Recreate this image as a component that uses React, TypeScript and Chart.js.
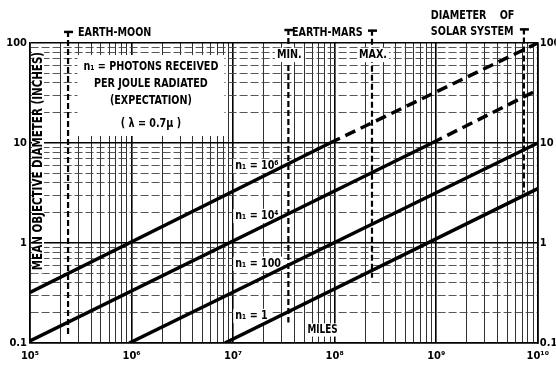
import React, { useEffect, useRef } from 'react';
import { Chart, registerables } from 'chart.js';

Chart.register(...registerables);

// ---- axis ticks ----
const xTickValues = [1e5, 1e6, 1e7, 1e8, 1e9, 1e10];
const xTickLabels = ['10⁵', '10⁶', '10⁷', '10⁸', '10⁹', '10¹⁰'];
const yTickValues = [0.1, 1, 10, 100];
const yTickLabels = ['0.1', '1', '10', '100'];

// ---- curves: mean objective diameter (inches) vs distance (miles) ----
const curveNames = ['n₁ = 10⁶', 'n₁ = 10⁴', 'n₁ = 100', 'n₁ = 1'];
const curve1e6X = [1e5, 9e7, 1e10];
const curve1e6Y = [0.32, 10, 100];
const curve1e4X = [1e5, 9.1e8, 1e10];
const curve1e4Y = [0.105, 10, 34];
const curve100X = [9.5e5, 1e10];
const curve100Y = [0.1, 10];
const curve1X = [8.3e6, 1e10];
const curve1Y = [0.1, 3.5];

// label anchors for the curves (data units)
const curveLabelX = [1.05e7, 1.05e7, 1.05e7, 1.05e7];
const curveLabelY = [5.9, 1.86, 0.62, 0.186];

// ---- reference distances (miles) ----
const limitNames = ['EARTH-MOON', 'MIN.', 'MAX.', 'SOLAR SYSTEM'];
const limitDistances = [2.37e5, 3.5e7, 2.33e8, 7.3e9];
const limitTop = [132, 138, 136, 140];
const limitBottom = [0.12, 0.16, 0.45, 3.2];

// ---- text annotations ----
const topLabels = ['EARTH-MOON', 'EARTH-MARS', 'DIAMETER    OF', 'SOLAR SYSTEM'];
const topLabelX = [2.97e5, 3.8e7, 8.85e8, 8.85e8];
const topLabelY = [126, 126, 186, 129];
const rangeLabels = ['MIN.', 'MAX.'];
const rangeLabelY = [75.9, 75.9];
const boxLines = ['n₁ = PHOTONS RECEIVED', 'PER JOULE RADIATED', '(EXPECTATION)', '( λ = 0.7μ )'];
const boxCenterX = 1.55e6;
const boxLineY = [57.5, 38.9, 26.3, 15.5];
const unitLabel = 'MILES';
const unitLabelX = 5.4e7;
const unitLabelY = 0.135;
const yTitle = 'MEAN OBJECTIVE DIAMETER (INCHES)';
const yTitleX = 1.2e5;
const yTitleY = 6.6;

const FONT = "'Liberation Sans Narrow', 'DejaVu Sans Condensed', 'Roboto Condensed', sans-serif";
const SQ = 0.82; // horizontal squeeze of the narrow lettering

const isPow10 = (v: number) => Math.abs(Math.log10(v) - Math.round(Math.log10(v))) < 1e-9;

function gridValues(lo: number, hi: number) {
  const out: number[] = [];
  for (let e = lo; e < hi; e++) {
    for (let k = 1; k <= 9; k++) out.push(k * Math.pow(10, e));
  }
  out.push(Math.pow(10, hi));
  return out;
}

const pts = (xs: number[], ys: number[]) => xs.map((x, i) => ({ x, y: ys[i] }));

function textBox(ctx: CanvasRenderingContext2D, t: string, x: number, align: string, size: number) {
  ctx.font = `bold ${size}px ${FONT}`;
  const w = ctx.measureText(t).width * SQ;
  const left = align === 'center' ? x - w / 2 : align === 'right' ? x - w : x;
  return { left, w };
}

function drawLabel(ctx: CanvasRenderingContext2D, t: string, x: number, y: number, align: string, size: number) {
  const { left } = textBox(ctx, t, x, align, size);
  ctx.save();
  ctx.translate(left, y);
  ctx.scale(SQ, 1);
  ctx.textAlign = 'left';
  ctx.textBaseline = 'middle';
  ctx.fillStyle = '#000';
  ctx.fillText(t, 0, 0);
  ctx.restore();
}

function drawBg(ctx: CanvasRenderingContext2D, t: string, x: number, y: number, align: string, size: number) {
  const { left, w } = textBox(ctx, t, x, align, size);
  ctx.fillStyle = '#fff';
  ctx.fillRect(left - 2, y - size * 0.55, w + 4, size * 1.1);
}

const annotPlugin = {
  id: 'annot',
  beforeDatasetsDraw(chart: any) {
    const { ctx } = chart;
    const px = (v: number) => chart.scales.x.getPixelForValue(v);
    const py = (v: number) => chart.scales.y.getPixelForValue(v);
    ctx.save();
    // white panel behind the legend text
    ctx.font = `bold 13px ${FONT}`;
    const maxW = Math.max(...boxLines.map((t) => ctx.measureText(t).width)) * SQ;
    const bx = px(boxCenterX);
    const bTop = py(boxLineY[0]) - 12;
    const bBot = py(boxLineY[boxLines.length - 1]) + 12;
    ctx.fillStyle = '#fff';
    ctx.fillRect(bx - maxW / 2 - 6, bTop, maxW + 12, bBot - bTop);
    // curve label backgrounds
    curveNames.forEach((t, i) => drawBg(ctx, t, px(curveLabelX[i]), py(curveLabelY[i]), 'left', 13));
    drawBg(ctx, unitLabel, px(unitLabelX), py(unitLabelY), 'left', 12);
    // y title background
    ctx.font = `bold 14px ${FONT}`;
    const tw = ctx.measureText(yTitle).width * SQ;
    ctx.fillStyle = '#fff';
    ctx.fillRect(px(yTitleX) - 6, py(yTitleY) - tw / 2 - 3, 12, tw + 6);
    ctx.restore();
  },
  afterDatasetsDraw(chart: any) {
    const { ctx } = chart;
    const px = (v: number) => chart.scales.x.getPixelForValue(v);
    const py = (v: number) => chart.scales.y.getPixelForValue(v);
    ctx.save();

    // top marks of reference lines
    ctx.strokeStyle = '#000';
    ctx.lineWidth = 2.5;
    limitDistances.forEach((d, i) => {
      const x = px(d);
      const y = py(limitTop[i]);
      ctx.beginPath();
      ctx.moveTo(x - 4, y + 1);
      ctx.lineTo(x + 5, y + 1);
      ctx.stroke();
    });

    const bx = px(boxCenterX);
    boxLines.forEach((t, i) => drawLabel(ctx, t, bx, py(boxLineY[i]), 'center', 13));

    topLabels.forEach((t, i) => drawLabel(ctx, t, px(topLabelX[i]), py(topLabelY[i]), 'left', 13));

    rangeLabels.forEach((t, i) => {
      const x = px(limitDistances[i + 1]) + 1;
      drawBg(ctx, t, x, py(rangeLabelY[i]), 'center', 13);
      drawLabel(ctx, t, x, py(rangeLabelY[i]), 'center', 13);
    });

    curveNames.forEach((t, i) => drawLabel(ctx, t, px(curveLabelX[i]), py(curveLabelY[i]), 'left', 13));
    drawLabel(ctx, unitLabel, px(unitLabelX), py(unitLabelY), 'left', 12);

    // y title
    ctx.save();
    ctx.translate(px(yTitleX), py(yTitleY));
    ctx.rotate(-Math.PI / 2);
    ctx.scale(SQ, 1);
    ctx.font = `bold 14px ${FONT}`;
    ctx.fillStyle = '#000';
    ctx.textAlign = 'center';
    ctx.textBaseline = 'middle';
    ctx.fillText(yTitle, 0, 0);
    ctx.restore();

    ctx.restore();
  },
};

export default function App() {
  const ref = useRef<HTMLCanvasElement | null>(null);

  useEffect(() => {
    document.body.style.margin = '0';
    const canvas = ref.current;
    if (!canvas) return;

    const curveDs = (xs: number[], ys: number[]) => ({
      data: pts(xs, ys),
      borderColor: '#000',
      borderWidth: 3.5,
      pointRadius: 0,
      fill: false,
      borderCapStyle: 'butt',
      segment: {
        borderDash: (c: any) => (c.p0.parsed.y >= 9.99 ? [11, 6] : undefined),
      },
    });
    const limitDs = (i: number) => ({
      data: [
        { x: limitDistances[i], y: limitTop[i] },
        { x: limitDistances[i], y: limitBottom[i] },
      ],
      borderColor: '#000',
      borderWidth: 2.2,
      borderDash: [6, 3],
      pointRadius: 0,
      fill: false,
      clip: false,
    });

    const xGrid = gridValues(5, 10);
    const yGrid = gridValues(-1, 2);

    const tickFont = { family: FONT, size: 11, weight: 'bold' as const };

    const chart = new Chart(canvas, {
      type: 'line',
      data: {
        datasets: [
          curveDs(curve1e6X, curve1e6Y),
          curveDs(curve1e4X, curve1e4Y),
          curveDs(curve100X, curve100Y),
          curveDs(curve1X, curve1Y),
          ...limitDistances.map((_, i) => limitDs(i)),
        ] as any,
      },
      options: {
        animation: false,
        responsive: false,
        maintainAspectRatio: false,
        layout: { padding: { top: 43, left: 0, right: 0, bottom: 0 } },
        plugins: { legend: { display: false }, tooltip: { enabled: false } },
        scales: {
          x: {
            type: 'logarithmic',
            min: 1e5,
            max: 1e10,
            afterBuildTicks: (s: any) => {
              s.ticks = xGrid.map((v) => ({ value: v }));
            },
            afterFit: (s: any) => {
              s.height = 26;
            },
            ticks: {
              autoSkip: false,
              maxRotation: 0,
              padding: 7,
              color: '#000',
              font: tickFont,
              callback: (v: any) => {
                const idx = xTickValues.findIndex((t) => Math.abs(t - v) / t < 1e-9);
                return idx >= 0 ? xTickLabels[idx] : '';
              },
            },
            grid: {
              drawTicks: false,
              color: (c: any) => (c.tick && isPow10(c.tick.value) ? '#000' : '#1a1a1a'),
              lineWidth: (c: any) => (c.tick && isPow10(c.tick.value) ? 1.6 : 0.9),
            },
            border: { display: true, color: '#000', width: 1.6 },
          },
          y: {
            type: 'logarithmic',
            position: 'left',
            min: 0.1,
            max: 100,
            afterBuildTicks: (s: any) => {
              s.ticks = yGrid.map((v) => ({ value: v }));
            },
            afterFit: (s: any) => {
              s.width = 30;
            },
            ticks: {
              autoSkip: false,
              padding: 3,
              color: '#000',
              font: tickFont,
              callback: (v: any) => {
                const idx = yTickValues.findIndex((t) => Math.abs(t - v) / t < 1e-9);
                return idx >= 0 ? yTickLabels[idx] : '';
              },
            },
            grid: {
              drawTicks: false,
              color: (c: any) => (c.tick && isPow10(c.tick.value) ? '#000' : '#444'),
              lineWidth: (c: any) => (c.tick && isPow10(c.tick.value) ? 1.6 : 0.9),
            },
            border: {
              display: true,
              color: '#000',
              width: 1.6,
              dash: (c: any) => (c.tick && !isPow10(c.tick.value) ? [8, 3] : []),
            },
          },
          y2: {
            type: 'logarithmic',
            position: 'right',
            min: 0.1,
            max: 100,
            afterBuildTicks: (s: any) => {
              s.ticks = yTickValues.map((v) => ({ value: v }));
            },
            afterFit: (s: any) => {
              s.width = 18;
            },
            ticks: {
              autoSkip: false,
              padding: 2,
              color: '#000',
              font: tickFont,
              callback: (v: any) => {
                const idx = yTickValues.findIndex((t) => Math.abs(t - v) / t < 1e-9);
                return idx >= 0 ? yTickLabels[idx] : '';
              },
            },
            grid: { display: false, drawTicks: false },
            border: { display: true, color: '#000', width: 1.6 },
          },
        },
      } as any,
      plugins: [annotPlugin],
    });

    return () => chart.destroy();
  }, []);

  return (
    <div style={{ width: 556, height: 369, background: '#fff' }}>
      <canvas ref={ref} width={556} height={369} style={{ display: 'block' }} />
    </div>
  );
}
